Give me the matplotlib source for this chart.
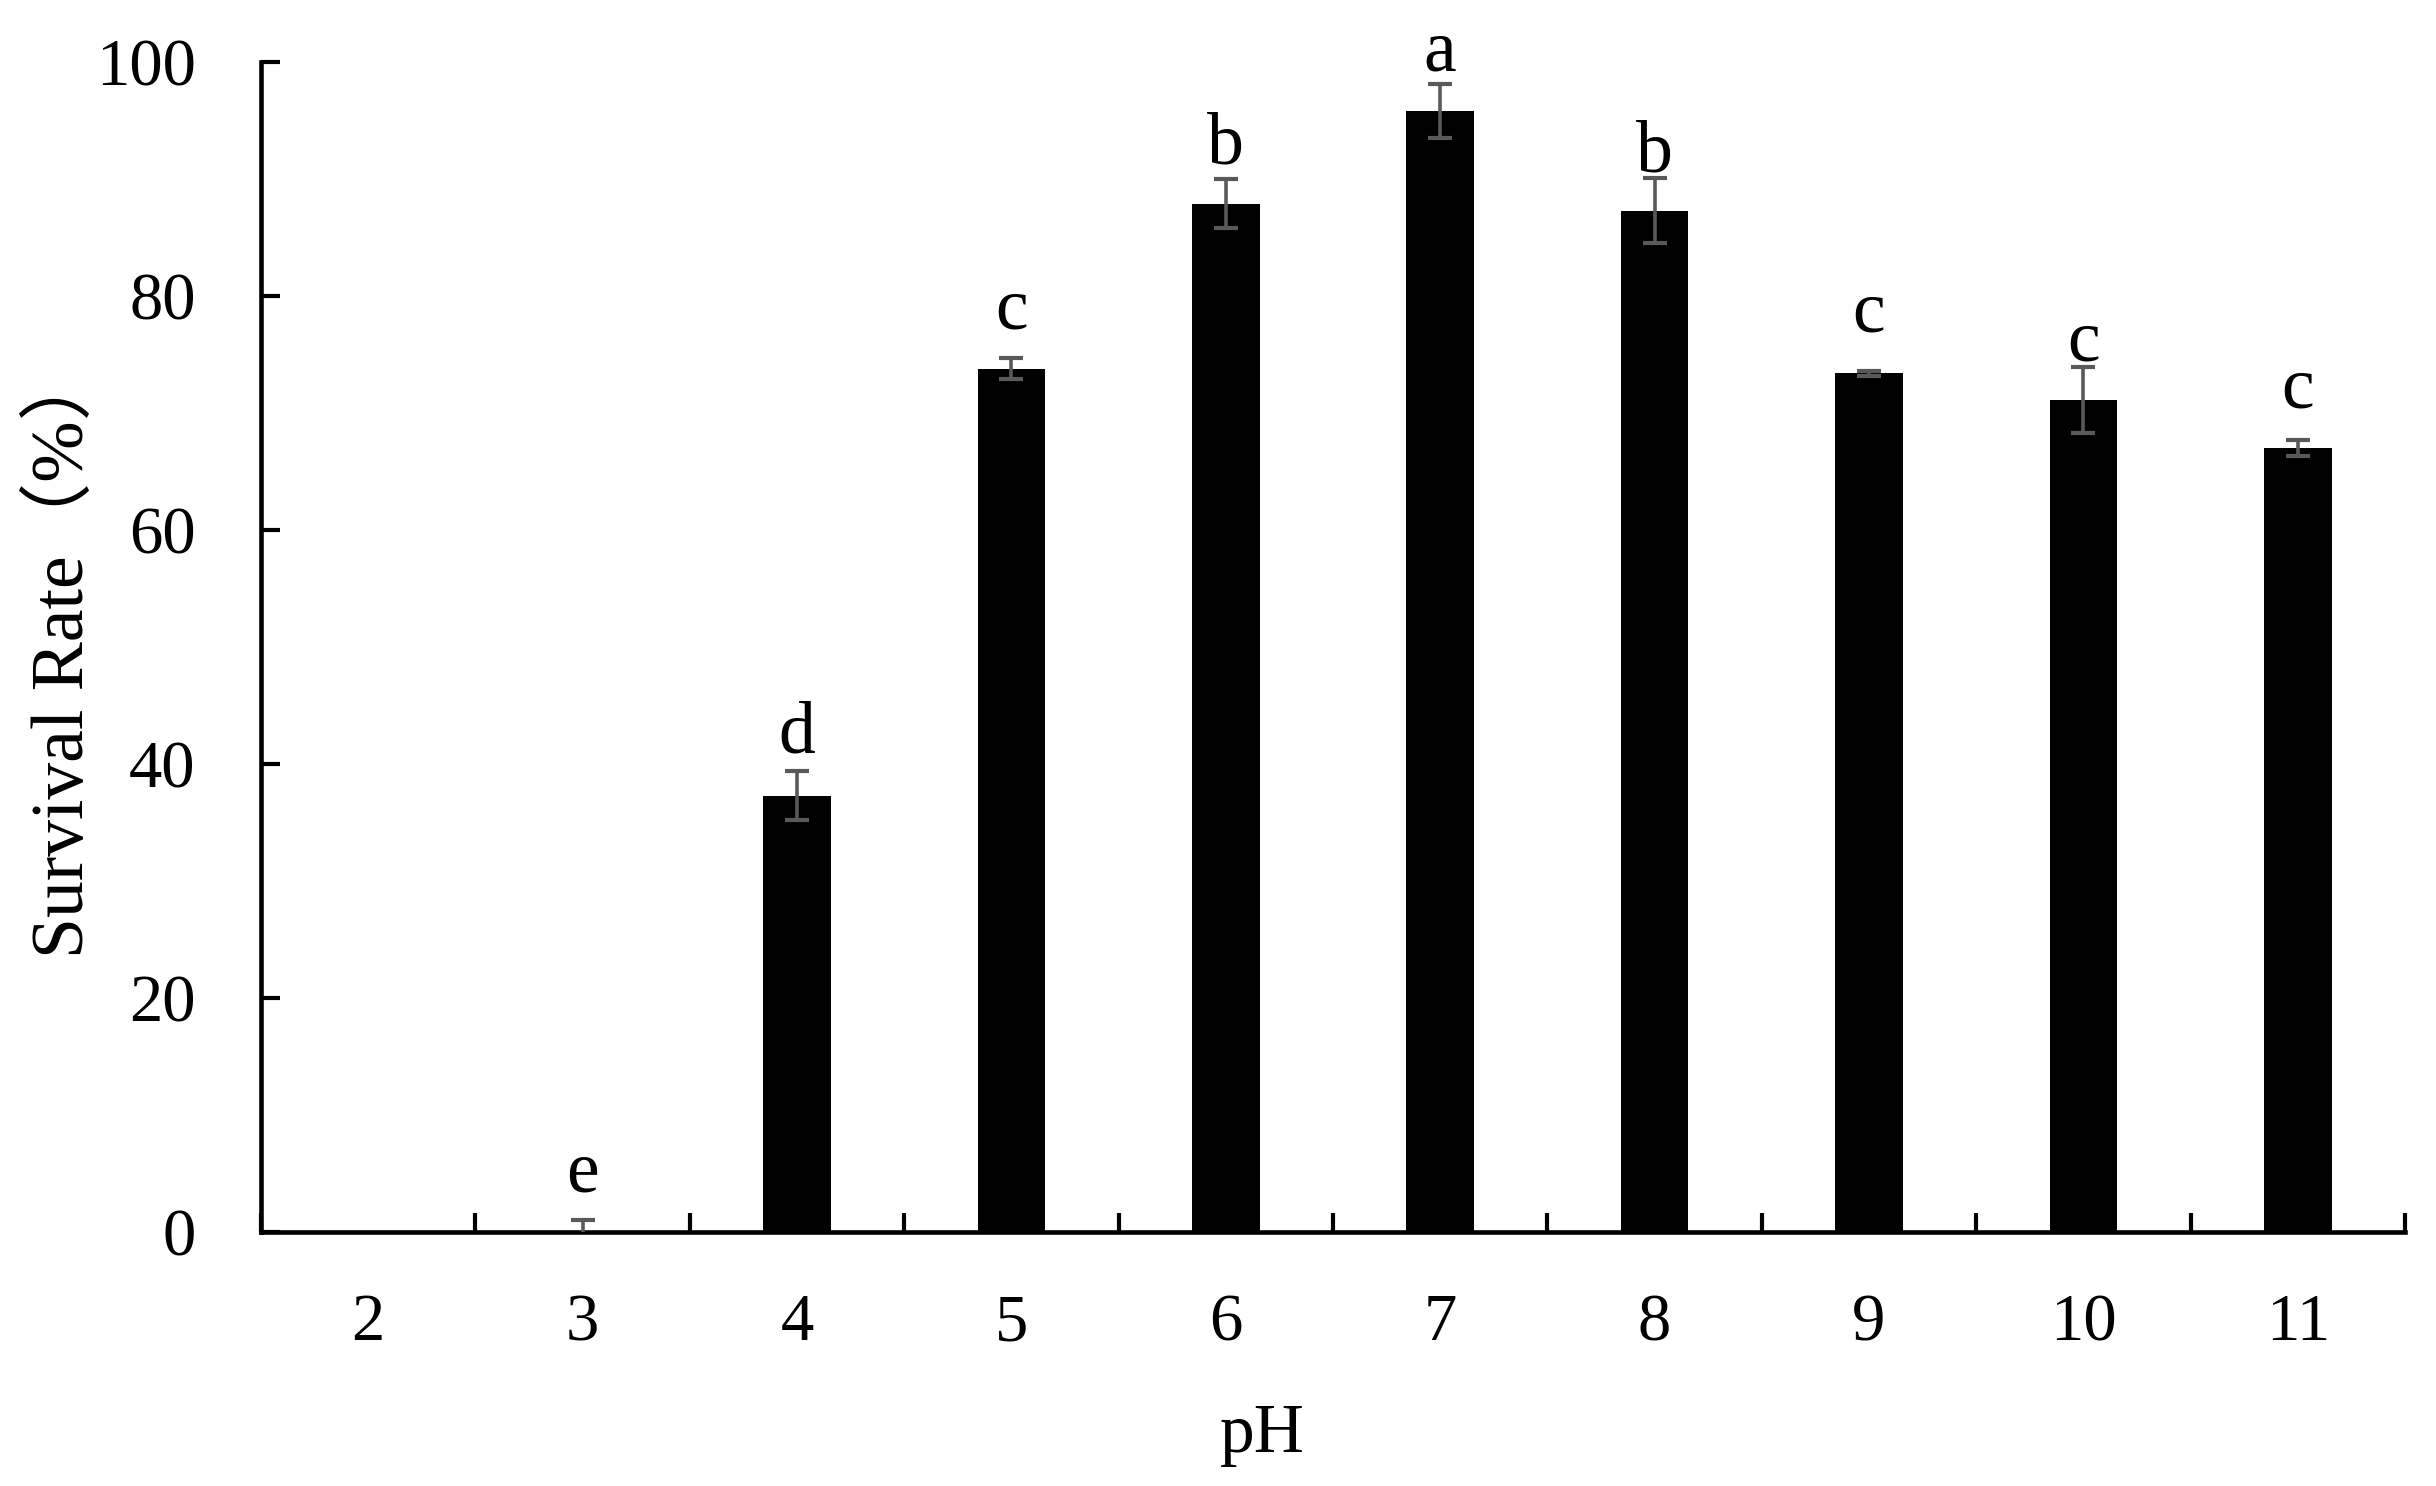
import numpy as np
import matplotlib
matplotlib.use("Agg")
import matplotlib.pyplot as plt
from matplotlib.ticker import FixedLocator, NullFormatter

plt.rcParams['font.family'] = ['Liberation Serif', 'Noto Sans CJK SC', 'DejaVu Sans']

# ---- data ----
ph_labels = ['2', '3', '4', '5', '6', '7', '8', '9', '10', '11']
survival = [0.0, 0.0, 37.3, 73.8, 87.9, 95.8, 87.3, 73.4, 71.1, 67.0]
errors = [np.nan, 1.0, 2.1, 0.9, 2.1, 2.3, 2.8, 0.2, 2.8, 0.7]
letters = ['', 'e', 'd', 'c', 'b', 'a', 'b', 'c', 'c', 'c']
letter_y = [np.nan, 3.5, 41.0, 77.2, 91.3, 99.3, 90.6, 77.0, 74.5, 70.5]
y_ticks = [0, 20, 40, 60, 80, 100]

W, H = 2436, 1486
fig = plt.figure(figsize=(W / 100, H / 100), dpi=100)
ax = fig.add_axes([261 / W, 1 - 1232 / H, (2405 - 261) / W, (1232 - 62) / H])

x = np.arange(len(ph_labels))
ax.bar(x, survival, width=0.315, color='black', edgecolor='none', zorder=2)
ax.errorbar(x, survival, yerr=errors, fmt='none', ecolor='#595959',
            elinewidth=2.6, capsize=8.6, capthick=3.0, zorder=3)

for xi, lab, ly in zip(x, letters, letter_y):
    if lab:
        ax.text(xi, ly, lab, ha='center', va='baseline', fontsize=53, color='black')

ax.set_xlim(-0.5, len(ph_labels) - 0.5)
ax.set_ylim(0, 100)

# x: ticks at category boundaries, labels at category centres
ax.xaxis.set_major_locator(FixedLocator(np.arange(-0.5, len(ph_labels), 1.0)))
ax.xaxis.set_major_formatter(NullFormatter())
ax.xaxis.set_minor_locator(FixedLocator(x))
ax.set_xticklabels(ph_labels, minor=True)
ax.tick_params(axis='x', which='major', direction='in', length=14, width=3.0)
ax.tick_params(axis='x', which='minor', length=0, pad=44, labelsize=48)

ax.set_yticks(y_ticks)
ax.tick_params(axis='y', which='major', direction='in', length=14, width=3.0,
               pad=47, labelsize=48)

for s in ['top', 'right']:
    ax.spines[s].set_visible(False)
for s in ['left', 'bottom']:
    ax.spines[s].set_linewidth(3.3)

ax.set_xlabel('pH', fontsize=50, va='baseline', ha='center')
ax.xaxis.set_label_coords((1262 - 261) / (2405 - 261), -(1452 - 1232) / 1170)
ax.set_ylabel('Survival Rate（%）', fontsize=53, rotation=90, va='center', ha='center')
ax.yaxis.set_label_coords((64 - 261) / (2405 - 261), (1232 - 652) / 1170)

fig.savefig('out.png', dpi=100, facecolor='white')
